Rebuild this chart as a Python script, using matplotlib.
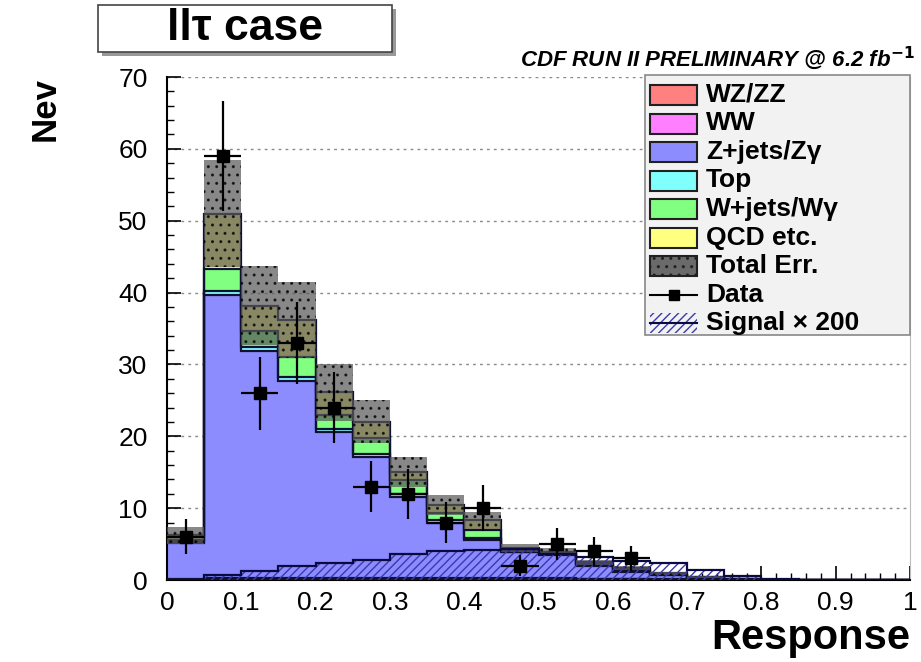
import numpy as np
import matplotlib
matplotlib.use("Agg")
import matplotlib.pyplot as plt
from matplotlib.patches import Rectangle
from matplotlib.lines import Line2D
from matplotlib.ticker import MultipleLocator

plt.rcParams['font.family'] = ['Liberation Sans', 'DejaVu Sans']
plt.rcParams['hatch.linewidth'] = 1.0

# ---------------- data ----------------
edges = np.round(np.linspace(0.0, 1.0, 21), 3)
wzzz  = [0.05, 0.2, 0.2, 0.2, 0.2, 0.2, 0.2, 0.2, 0.2, 0.15, 0.15, 0.1, 0.1, 0.05, 0.05, 0.02, 0, 0, 0, 0]
ww    = [0.05, 0.1, 0.1, 0.1, 0.1, 0.1, 0.1, 0.1, 0.1, 0.1, 0.1, 0.05, 0.05, 0.02, 0.02, 0, 0, 0, 0, 0]
zjets = [5.1, 39.4, 31.6, 27.4, 20.3, 16.8, 11.3, 7.6, 5.2, 3.6, 3.2, 1.8, 1.0, 0.6, 0.2, 0.05, 0, 0, 0, 0]
top   = [0.1, 0.5, 0.5, 0.5, 0.4, 0.5, 0.4, 0.4, 0.4, 0.1, 0.1, 0.1, 0.1, 0.05, 0.05, 0, 0, 0, 0, 0]
wjets = [0.3, 3.1, 2.3, 2.8, 1.9, 2.2, 1.9, 1.0, 1.0, 0.2, 0.2, 0.2, 0.2, 0.1, 0.05, 0, 0, 0, 0, 0]
qcd   = [0.6, 7.7, 3.5, 5.2, 3.2, 2.2, 1.1, 1.1, 1.4, 0.3, 0.2, 0.2, 0.2, 0.1, 0.05, 0, 0, 0, 0, 0]
toterr = [1.2, 7.5, 5.5, 5.3, 4.0, 3.0, 2.1, 1.4, 1.2, 0.5, 0.5, 0.4, 0.3, 0.2, 0.1, 0, 0, 0, 0, 0]
signal = [0, 0.7, 1.2, 1.9, 2.3, 2.8, 3.6, 4.0, 4.2, 4.3, 3.6, 3.2, 2.6, 2.4, 1.4, 0.6, 0.1, 0, 0, 0]
data   = [6, 59, 26, 33, 24, 13, 12, 8, 10, 2, 5, 4, 3, 0, 0, 0, 0, 0, 0, 0]

labels = ["WZ/ZZ", "WW", "Z+jets/Z\u03b3", "Top", "W+jets/W\u03b3", "QCD etc."]
colors = ["#ff8080", "#ff80ff", "#8c8cff", "#80ffff", "#80ff80", "#ffff80"]
components = [wzzz, ww, zjets, top, wjets, qcd]

xticks = [0, 0.1, 0.2, 0.3, 0.4, 0.5, 0.6, 0.7, 0.8, 0.9, 1]
xticklabels = ["0", "0.1", "0.2", "0.3", "0.4", "0.5", "0.6", "0.7", "0.8", "0.9", "1"]
yticks = [0, 10, 20, 30, 40, 50, 60, 70]

# ---------------- figure ----------------
W, H = 921, 662
fig = plt.figure(figsize=(W / 100, H / 100), dpi=100)
L, R, T, B = 167, 910, 77, 580
ax = fig.add_axes([L / W, 1 - B / H, (R - L) / W, (B - T) / H])

centers = 0.5 * (edges[:-1] + edges[1:])
bottom = np.zeros(len(centers))
for vals, col in zip(components, colors):
    v = np.array(vals, dtype=float)
    ax.stairs(bottom + v, edges, baseline=bottom.copy(), fill=True, color=col, zorder=2)
    bottom = bottom + v
# outlines
cum = np.zeros(len(centers))
for vals in components:
    cum = cum + np.array(vals, dtype=float)
    ax.stairs(cum, edges, baseline=None, color="#101030", lw=1.6, zorder=3)
total = cum
err = np.array(toterr)

# total error band
ax.bar(centers, 2 * err, bottom=total - err, width=0.05, color="#5a5a5a", alpha=0.72,
       hatch="..", edgecolor="black", linewidth=0, zorder=4)

# signal x200
sig = np.array(signal)
ax.stairs(sig, edges, baseline=0, fill=True, facecolor="none", edgecolor="#3a3ab0",
          hatch="////", linewidth=0, zorder=5)
ax.stairs(sig, edges, baseline=None, color="#0a0a40", lw=1.6, zorder=5)

# data
d = np.array(data, dtype=float)
m = d > 0
ax.errorbar(centers[m], d[m], yerr=np.sqrt(d[m]), xerr=0.025, fmt="s", color="black",
            ms=8, elinewidth=1.6, capsize=0, zorder=7)

# axes styling
ax.set_xlim(0, 1)
ax.set_ylim(0, 70)
ax.set_xticks(xticks)
ax.set_xticklabels(xticklabels)
ax.set_yticks(yticks)
ax.xaxis.set_minor_locator(MultipleLocator(0.02))
ax.yaxis.set_minor_locator(MultipleLocator(2))
ax.tick_params(axis="both", which="major", direction="in", length=10, width=1.2,
               labelsize=19, top=False, right=False)
ax.tick_params(axis="both", which="minor", direction="in", length=5, width=1.0,
               top=False, right=False)
ax.tick_params(axis="y", pad=14)
ax.tick_params(axis="x", pad=8)
for gy in [10, 20, 30, 40, 50, 60, 70]:
    ax.axhline(gy, color="#8a8a8a", lw=1.0, ls=(0, (2, 3)), zorder=1)
ax.spines["left"].set_linewidth(1.5)
ax.spines["bottom"].set_linewidth(1.5)
ax.spines["top"].set_visible(False)
ax.spines["right"].set_color("#bbbbbb")

# axis titles
fig.text(45 / W, 1 - 77 / H, "Nev", rotation=90, fontsize=25, fontweight="bold",
         ha="center", va="top")
fig.text(R / W, 1 - 638 / H, "Response", fontsize=30, fontweight="bold",
         ha="right", va="center")

# title box
fig.patches.append(Rectangle((102 / W, 1 - 56 / H), 294 / W, 47 / H, transform=fig.transFigure,
                             facecolor="#999999", edgecolor="none", zorder=1))
fig.patches.append(Rectangle((98 / W, 1 - 52 / H), 294 / W, 47 / H, transform=fig.transFigure,
                             facecolor="white", edgecolor="#444444", lw=1.2, zorder=2))
fig.text(245 / W, 1 - 29 / H, "ll\u03c4 case", fontsize=32, fontweight="bold",
         ha="center", va="center", zorder=3)
fig.text(915 / W, 1 - 58 / H, "CDF RUN II PRELIMINARY @ 6.2 fb$^{\\mathbf{-1}}$", fontsize=16,
         fontweight="bold", fontstyle="italic", ha="right", va="center")

# legend (manual, figure pixel coordinates)
def fx(px):
    return px / W

def fy(py):
    return 1 - py / H

lx0, lx1, ly0, ly1 = 645, 910, 75, 335
fig.patches.append(Rectangle((fx(lx0), fy(ly1)), (lx1 - lx0) / W, (ly1 - ly0) / H,
                             transform=fig.transFigure, facecolor="#f2f2f2",
                             edgecolor="#888888", lw=1.2, zorder=10))
row0, dy = 95, 28.5
sw0, sw1, sh = 650, 697, 20
leg_labels = labels + ["Total Err.", "Data", "Signal \u00d7 200"]
for i, lab in enumerate(leg_labels):
    yc = row0 + i * dy
    if i < 6:
        fig.patches.append(Rectangle((fx(sw0), fy(yc + sh / 2)), (sw1 - sw0) / W, sh / H,
                                     transform=fig.transFigure, facecolor=colors[i],
                                     edgecolor="#202020", lw=1.5, zorder=11))
    elif i == 6:
        fig.patches.append(Rectangle((fx(sw0), fy(yc + sh / 2)), (sw1 - sw0) / W, sh / H,
                                     transform=fig.transFigure, facecolor="#6a6a6a",
                                     edgecolor="#202020", lw=1.5, hatch="..", zorder=11))
    elif i == 7:
        fig.lines.append(Line2D([fx(sw0), fx(sw1)], [fy(yc), fy(yc)], transform=fig.transFigure,
                                color="black", lw=1.5, zorder=12))
        fig.lines.append(Line2D([fx((sw0 + sw1) / 2)], [fy(yc)], transform=fig.transFigure,
                                color="black", marker="s", ms=7, lw=0, zorder=12))
    else:
        fig.patches.append(Rectangle((fx(sw0), fy(yc + sh / 2)), (sw1 - sw0) / W, sh / H,
                                     transform=fig.transFigure, facecolor="none",
                                     edgecolor="#3a3ab0", lw=0, hatch="////", zorder=11))
        fig.lines.append(Line2D([fx(sw0), fx(sw1)], [fy(yc), fy(yc)], transform=fig.transFigure,
                                color="#0a0a40", lw=1.5, zorder=12))
    fig.text(fx(706), fy(yc), lab, fontsize=19, fontweight="bold", ha="left", va="center",
             zorder=13)

fig.savefig("out.png", dpi=100)
